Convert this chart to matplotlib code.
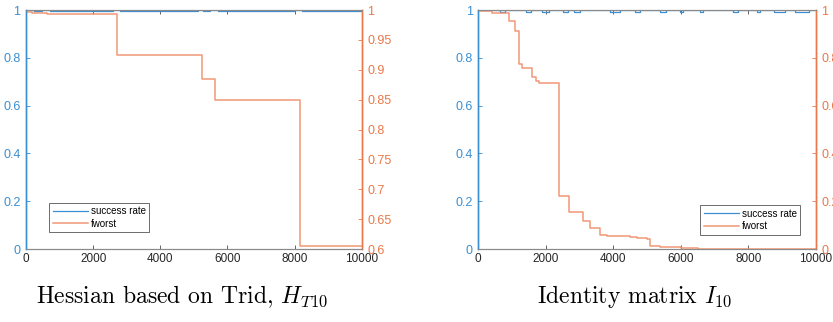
import numpy as np
import matplotlib
matplotlib.use("Agg")
import matplotlib.pyplot as plt

plt.rcParams['font.family'] = ['Liberation Sans', 'DejaVu Sans']
plt.rcParams['mathtext.fontset'] = 'cm'

# --- datos: Hessiana basada en Trid ---
trid_sr_x = [0, 250, 480, 720, 2600, 2800, 5120, 5270, 5480, 5720, 8010, 8220, 10000]
trid_sr_y = [1.0, 0.995, 1.0, 0.995, 1.0, 0.995, 1.0, 0.995, 1.0, 0.995, 1.0, 0.995, 0.995]
trid_fw_x = [0, 180, 615, 2700, 5230, 5630, 8150, 10000]
trid_fw_y = [0.997, 0.9945, 0.993, 0.9245, 0.8845, 0.849, 0.6045, 0.6045]

# --- datos: matriz identidad ---
id_sr_x = [0, 650, 800, 1400, 1550, 1900, 2100, 2500, 2650, 2850, 3000, 3900, 4200,
           4650, 4800, 5400, 5550, 5980, 6080, 6570, 6650, 7550, 7700, 8250, 8350,
           8750, 9100, 9400, 9800, 10000]
id_sr_y = [1.0, 0.994, 1.0, 0.994, 1.0, 0.994, 1.0, 0.994, 1.0, 0.994, 1.0, 0.994, 1.0,
           0.994, 1.0, 0.994, 1.0, 0.994, 1.0, 0.994, 1.0, 0.994, 1.0, 0.994, 1.0,
           0.994, 1.0, 0.994, 1.0, 1.0]
id_fw_x = [0, 100, 400, 900, 1100, 1200, 1300, 1600, 1700, 1800, 2400, 2700, 3100,
           3300, 3600, 3800, 4500, 4700, 5000, 5100, 5400, 6000, 6500, 7000, 10000]
id_fw_y = [0.998, 0.996, 0.986, 0.954, 0.914, 0.773, 0.756, 0.719, 0.703, 0.694, 0.22,
           0.156, 0.116, 0.086, 0.06, 0.056, 0.052, 0.047, 0.042, 0.011, 0.008, 0.004,
           0.001, 0.0, 0.0]

xticks = [0, 2000, 4000, 6000, 8000, 10000]
captions = ['Hessian based on Trid, $H_{T10}$', 'Identity matrix $I_{10}$']

azul = '#3d8fd0'
azul_txt = '#3a8fd2'
naranja_txt = '#e9784a'
gris = '#262626'

fig = plt.figure(figsize=(8.33, 3.22), dpi=100)

def panel(rect, srx, sry, fwx, fwy, rlim, rticks, rlabels, legloc, anchor, caption, cx):
    ax = fig.add_axes(rect)
    ax2 = ax.twinx()
    l1, = ax.step(srx, sry, where='post', color=azul, lw=0.9)
    l2, = ax2.step(fwx, fwy, where='post', color='#f08e68', lw=1.1, alpha=0.9)
    ax.set_xlim(0, 10000)
    ax.set_ylim(0, 1)
    ax2.set_ylim(*rlim)
    ax.set_xticks(xticks)
    ax.set_xticklabels([str(v) for v in xticks])
    ax.set_yticks([0, 0.2, 0.4, 0.6, 0.8, 1])
    ax.set_yticklabels(['0', '0.2', '0.4', '0.6', '0.8', '1'])
    ax2.set_yticks(rticks)
    ax2.set_yticklabels(rlabels)
    ax.tick_params(axis='x', direction='in', top=True, length=3, width=0.5,
                   colors=gris, labelsize=8.5, pad=3)
    ax.tick_params(axis='y', direction='in', length=3, width=0.6,
                   colors=azul_txt, labelsize=9, pad=4)
    ax2.tick_params(axis='y', direction='in', length=3, width=0.6,
                    colors=naranja_txt, labelsize=9, pad=4)
    for a in (ax, ax2):
        a.spines['top'].set_color('#8a8a8a')
        a.spines['bottom'].set_color('#8a8a8a')
        a.spines['top'].set_linewidth(0.8)
        a.spines['bottom'].set_linewidth(0.8)
        a.spines['left'].set_color(azul_txt)
        a.spines['right'].set_color(naranja_txt)
        a.spines['left'].set_linewidth(1.0)
        a.spines['right'].set_linewidth(1.0)
    leg = ax2.legend([l1, l2], ['success rate', 'fworst'], loc=legloc,
                     fontsize=7, fancybox=False, framealpha=1, handlelength=3.6,
                     borderpad=0.35, labelspacing=0.25, handletextpad=0.3,
                     bbox_to_anchor=anchor)
    leg.get_frame().set_edgecolor('#555555')
    leg.get_frame().set_linewidth(0.6)
    fig.text(cx, 0.078, caption, ha='center', va='center', fontsize=17,
             family='cmr10')

panel([0.0312, 0.2267, 0.403, 0.742], trid_sr_x, trid_sr_y, trid_fw_x, trid_fw_y,
      (0.6, 1.0), [0.6, 0.65, 0.7, 0.75, 0.8, 0.85, 0.9, 0.95, 1.0],
      ['0.6', '0.65', '0.7', '0.75', '0.8', '0.85', '0.9', '0.95', '1'],
      'lower left', (0.055, 0.05), captions[0], 0.219)
panel([0.5742, 0.2267, 0.405, 0.742], id_sr_x, id_sr_y, id_fw_x, id_fw_y,
      (0.0, 1.0), [0, 0.2, 0.4, 0.6, 0.8, 1.0],
      ['0', '0.2', '0.4', '0.6', '0.8', '1'],
      'lower right', (0.968, 0.04), captions[1], 0.762)

fig.savefig('out.png', dpi=100)
